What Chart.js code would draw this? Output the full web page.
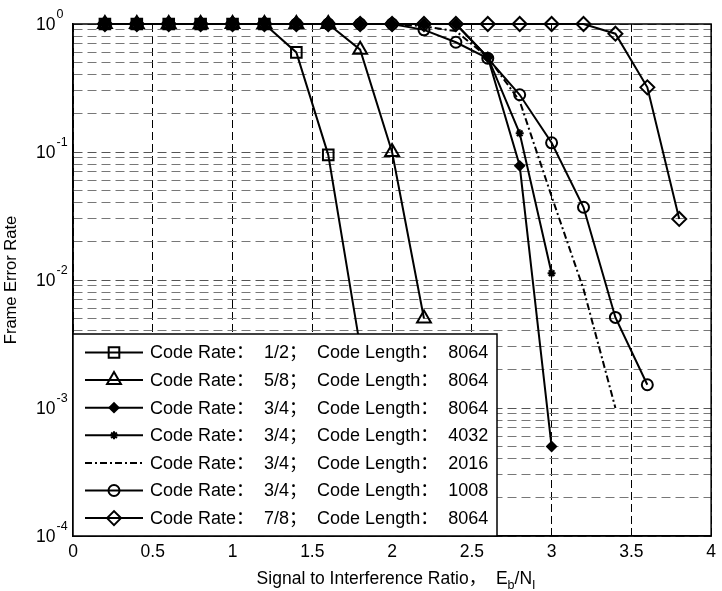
<!DOCTYPE html>
<html>
<head>
<meta charset="utf-8">
<script src="https://cdn.jsdelivr.net/npm/chart.js@4.4.1/dist/chart.umd.min.js"></script>
<style>
  html, body { margin: 0; padding: 0; background: #fff; }
  #wrap { width: 722px; height: 591px; }
</style>
</head>
<body>
<div id="wrap"><canvas id="fer" width="722" height="591"></canvas></div>
<script>
// values
const snrRate12 = [0.2, 0.4, 0.6, 0.8, 1.0, 1.2, 1.4, 1.6, 1.8];
const ferRate12 = [1, 1, 1, 1, 1, 1, 0.6, 0.095, 0.003];

const snrRate58 = [0.2, 0.4, 0.6, 0.8, 1.0, 1.2, 1.4, 1.6, 1.8, 2.0, 2.2];
const ferRate58 = [1, 1, 1, 1, 1, 1, 1, 1, 0.63, 0.1, 0.005];

const snrRate34L8064 = [0.2, 0.4, 0.6, 0.8, 1.0, 1.2, 1.4, 1.6, 1.8, 2.0, 2.2, 2.4, 2.6, 2.8, 3.0];
const ferRate34L8064 = [1, 1, 1, 1, 1, 1, 1, 1, 1, 1, 1, 1, 0.55, 0.078, 0.0005];

const snrRate34L4032 = [0.2, 0.4, 0.6, 0.8, 1.0, 1.2, 1.4, 1.6, 1.8, 2.0, 2.2, 2.4, 2.6, 2.8, 3.0];
const ferRate34L4032 = [1, 1, 1, 1, 1, 1, 1, 1, 1, 1, 1, 1, 0.55, 0.14, 0.0113];

const snrRate34L2016 = [0.2, 0.4, 0.6, 0.8, 1.0, 1.2, 1.4, 1.6, 1.8, 2.0, 2.2, 2.4, 2.6, 2.8, 3.0, 3.2, 3.4];
const ferRate34L2016 = [1, 1, 1, 1, 1, 1, 1, 1, 1, 1, 0.96, 0.88, 0.55, 0.25, 0.045, 0.0085, 0.001];

const snrRate34L1008 = [0.2, 0.4, 0.6, 0.8, 1.0, 1.2, 1.4, 1.6, 1.8, 2.0, 2.2, 2.4, 2.6, 2.8, 3.0, 3.2, 3.4, 3.6];
const ferRate34L1008 = [1, 1, 1, 1, 1, 1, 1, 1, 1, 1, 0.9, 0.72, 0.54, 0.28, 0.118, 0.037, 0.0051, 0.00152];

const snrRate78 = [0.2, 0.4, 0.6, 0.8, 1.0, 1.2, 1.4, 1.6, 1.8, 2.0, 2.2, 2.4, 2.6, 2.8, 3.0, 3.2, 3.4, 3.6, 3.8];
const ferRate78 = [1, 1, 1, 1, 1, 1, 1, 1, 1, 1, 1, 1, 1, 1, 1, 1, 0.84, 0.32, 0.03];

const legendLabels = [
  "Code Rate：  1/2；  Code Length：  8064",
  "Code Rate：  5/8；  Code Length：  8064",
  "Code Rate：  3/4；  Code Length：  8064",
  "Code Rate：  3/4；  Code Length：  4032",
  "Code Rate：  3/4；  Code Length：  2016",
  "Code Rate：  3/4；  Code Length：  1008",
  "Code Rate：  7/8；  Code Length：  8064"
];

const xTickLabels = ["0", "0.5", "1", "1.5", "2", "2.5", "3", "3.5", "4"];
const yDecades = [1e-4, 1e-3, 1e-2, 1e-1, 1];
const yMinorSteps = [2, 3, 4, 5, 6, 7, 8, 9];
const yTitle = "Frame Error Rate";
const xTitleParts = [
  { text: "Signal to Interference Ratio，  E", sub: false },
  { text: "b", sub: true },
  { text: "/N", sub: false },
  { text: "I", sub: true }
];

const FONT = '"Liberation Sans", Arial, "Noto Sans CJK SC", sans-serif';
Chart.defaults.font.family = FONT;
Chart.defaults.color = "#000";

const pts = (xs, ys) => xs.map((x, i) => ({ x: x, y: ys[i] }));

function series(label, xs, ys, style) {
  return Object.assign({
    label: label,
    data: pts(xs, ys),
    borderColor: "#000",
    borderWidth: 2,
    pointBorderColor: "#000",
    pointBackgroundColor: "rgba(0,0,0,0)",
    pointBorderWidth: 2,
    pointHoverRadius: 0,
    tension: 0,
    clip: false
  }, style);
}

const datasets = [
  series(legendLabels[0], snrRate12, ferRate12, { pointStyle: "rect", pointRadius: 7.5 }),
  series(legendLabels[1], snrRate58, ferRate58, { pointStyle: "triangle", pointRadius: 8 }),
  series(legendLabels[2], snrRate34L8064, ferRate34L8064, { pointStyle: "rectRot", pointRadius: 4.5, pointBackgroundColor: "#000" }),
  series(legendLabels[3], snrRate34L4032, ferRate34L4032, { pointStyle: "star", pointRadius: 4 }),
  series(legendLabels[4], snrRate34L2016, ferRate34L2016, { pointRadius: 0, borderDash: [7, 3, 2, 3] }),
  series(legendLabels[5], snrRate34L1008, ferRate34L1008, { pointStyle: "circle", pointRadius: 5.5 }),
  series(legendLabels[6], snrRate78, ferRate78, { pointStyle: "rectRot", pointRadius: 7 })
];

const isDecade = v => yDecades.some(d => Math.abs(d - v) < d * 1e-6);

// box, y tick labels with exponents, x title with subscripts, legend inside the axes
const decorPlugin = {
  id: "decor",
  afterDatasetsDraw(chart) {
    const ctx = chart.ctx;
    const ca = chart.chartArea;
    const yScale = chart.scales.y;

    ctx.save();
    ctx.strokeStyle = "#000";
    ctx.lineWidth = 1.5;
    ctx.setLineDash([]);
    ctx.strokeRect(ca.left, ca.top, ca.right - ca.left, ca.bottom - ca.top);

    // y labels 10^n
    ctx.fillStyle = "#000";
    yDecades.forEach(d => {
      const y = yScale.getPixelForValue(d);
      const exp = String(Math.round(Math.log10(d)));
      ctx.font = "17.5px " + FONT;
      ctx.textAlign = "left";
      ctx.textBaseline = "middle";
      const baseX = ca.left - 37;
      ctx.fillText("10", baseX, y + 1);
      const w = ctx.measureText("10").width;
      ctx.font = "12.5px " + FONT;
      ctx.textBaseline = "alphabetic";
      ctx.fillText(exp, baseX + w + 1, y - 6);
    });

    // x title
    const big = "17.5px " + FONT, small = "12.5px " + FONT;
    let total = 0;
    xTitleParts.forEach(p => { ctx.font = p.sub ? small : big; total += ctx.measureText(p.text).width; });
    let tx = (ca.left + ca.right) / 2 - total / 2 + 4;
    const ty = 584;
    xTitleParts.forEach(p => {
      ctx.font = p.sub ? small : big;
      ctx.textBaseline = "alphabetic";
      ctx.fillText(p.text, tx, p.sub ? ty + 5 : ty);
      tx += ctx.measureText(p.text).width;
    });

    // legend
    const lx = ca.left, lw = 424, lh = 202, ly = ca.bottom - lh;
    ctx.fillStyle = "#fff";
    ctx.fillRect(lx, ly, lw, lh);
    ctx.strokeStyle = "#000";
    ctx.lineWidth = 1.5;
    ctx.strokeRect(lx, ly, lw, lh);
    chart.data.datasets.forEach((ds, i) => {
      const cy = ly + 18.5 + i * 27.6;
      ctx.save();
      ctx.strokeStyle = ds.borderColor;
      ctx.lineWidth = ds.borderWidth;
      ctx.setLineDash(ds.borderDash || []);
      ctx.beginPath();
      ctx.moveTo(lx + 12, cy);
      ctx.lineTo(lx + 70, cy);
      ctx.stroke();
      ctx.setLineDash([]);
      if (ds.pointRadius > 0) {
        ctx.fillStyle = ds.pointBackgroundColor;
        ctx.strokeStyle = ds.pointBorderColor;
        ctx.lineWidth = ds.pointBorderWidth;
        Chart.helpers.drawPoint(ctx, {
          pointStyle: ds.pointStyle, radius: ds.pointRadius, rotation: 0, borderWidth: ds.pointBorderWidth
        }, lx + 41, cy);
      }
      ctx.restore();
      ctx.fillStyle = "#000";
      ctx.font = "18px " + FONT;
      ctx.textAlign = "left";
      ctx.textBaseline = "middle";
      ctx.fillText(ds.label, lx + 77, cy + 1);
    });
    ctx.restore();
  }
};

new Chart(document.getElementById("fer"), {
  type: "line",
  data: { datasets: datasets },
  plugins: [decorPlugin],
  options: {
    responsive: false,
    animation: false,
    layout: { padding: { top: 24, right: 5, left: 0, bottom: 0 } },
    plugins: { legend: { display: false }, tooltip: { enabled: false } },
    elements: { line: { borderJoinStyle: "miter" } },
    scales: {
      x: {
        type: "linear",
        min: 0,
        max: 4,
        ticks: {
          stepSize: 0.5,
          autoSkip: false,
          maxRotation: 0,
          padding: 6,
          font: { size: 17.5 },
          callback: (v, i) => xTickLabels[i]
        },
        grid: { color: "#000", lineWidth: 1, drawTicks: false },
        border: { display: true, color: "#000", width: 1.5, dash: [8, 4] },
        afterFit: s => { s.height = 55; }
      },
      y: {
        type: "logarithmic",
        min: 1e-4,
        max: 1,
        afterBuildTicks: s => {
          const ticks = [];
          yDecades.forEach(d => {
            ticks.push({ value: d, major: true });
            if (d < 1) yMinorSteps.forEach(k => ticks.push({ value: +(k * d).toPrecision(3), major: false }));
          });
          s.ticks = ticks;
        },
        ticks: { autoSkip: false, callback: () => "" },
        grid: {
          color: c => (c.tick && isDecade(c.tick.value)) ? "#555" : "#777",
          lineWidth: 1,
          drawTicks: false
        },
        border: { display: true, color: "#000", width: 1.5, dash: [9, 5] },
        title: { display: true, text: yTitle, font: { size: 16.5 }, padding: { top: 2, bottom: 0 } },
        afterFit: s => { s.width = 73; }
      }
    }
  }
});
</script>
</body>
</html>
